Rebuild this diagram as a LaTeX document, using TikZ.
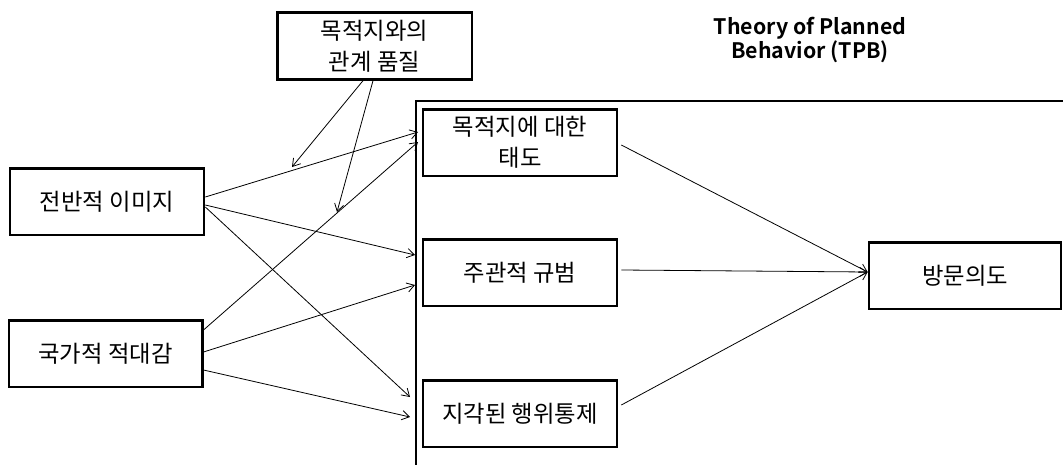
\documentclass[tikz,border=0pt]{standalone}
\usepackage{fontspec}
\usetikzlibrary{arrows.meta,calc}
\newfontfamily\kr{Noto Sans CJK KR}
\newfontfamily\ttl{Noto Sans CJK KR}[BoldFont={Noto Sans CJK KR Bold}]
\begin{document}
\begin{tikzpicture}[x=0.75pt,y=-0.75pt,
  box/.style={draw,line width=2pt,rectangle,minimum height=50pt,inner sep=0pt,align=center,font=\kr\fontsize{17.5}{23}\selectfont},
  arr/.style={line width=0.6pt,-{Straight Barb[length=5.5pt,width=7pt]}}]
\useasboundingbox (0,0) rectangle (1063,464);
\clip (0,0) rectangle (1063,464);
% big TPB frame
\draw[line width=2.2pt] (1075,101) -- (416,101) -- (416,475);
\node[font=\ttl\bfseries\fontsize{16}{17.5}\selectfont,align=center] (ttl) at (810,40) {Theory of Planned\\Behavior (TPB)};
% boxes
\node[box,minimum width=146pt] (rq) at (374.5,46) {목적지와의\\관계 품질};
\node[box,minimum width=145.5pt] (gi) at (107,201.5) {전반적 이미지};
\node[box,minimum width=145pt] (ha) at (105.5,353.5) {국가적 적대감};
\node[box,minimum width=145.5pt] (att) at (520,142.5) {목적지에 대한\\태도};
\node[box,minimum width=145.5pt] (sn) at (520,272.5) {주관적 규범};
\node[box,minimum width=145.5pt] (pbc) at (520,413.5) {지각된 행위통제};
\node[box,minimum width=144pt] (vi) at (965,275.5) {방문의도};
% arrow end points on the TPB frame
\coordinate (e1) at (418,132);
\coordinate (e2) at (415,255);
\coordinate (e3) at (410,397);
\coordinate (e4) at (418,142);
\coordinate (e5) at (415,285);
\coordinate (e6) at (410,417);
\coordinate (m1) at (292,167);
\coordinate (m2) at (337,212);
% connectors
\draw[arr] ($(gi.east)+(0,-4.5)$) -- (e1);
\draw[arr] ($(gi.east)+(0,3.5)$) -- (e2);
\draw[arr] ($(gi.east)+(0,5.5)$) -- (e3);
\draw[arr] ($(ha.east)+(0,-23.5)$) -- (e4);
\draw[arr] ($(ha.east)+(0,-1.5)$) -- (e5);
\draw[arr] ($(ha.east)+(0,16.5)$) -- (e6);
\draw[arr] ($(rq.south)+(-11.5,0)$) -- (m1);
\draw[arr] ($(rq.south)+(-1.5,0)$) -- (m2);
\draw[arr] ($(att.east)+(3,2.5)$) -- ($(vi.west)+(0,-3.5)$);
\draw[arr] ($(sn.east)+(3,-2.5)$) -- ($(vi.west)+(0,-3.5)$);
\draw[arr] ($(pbc.east)+(3,-8.5)$) -- ($(vi.west)+(0,-3.5)$);
\end{tikzpicture}
\end{document}
